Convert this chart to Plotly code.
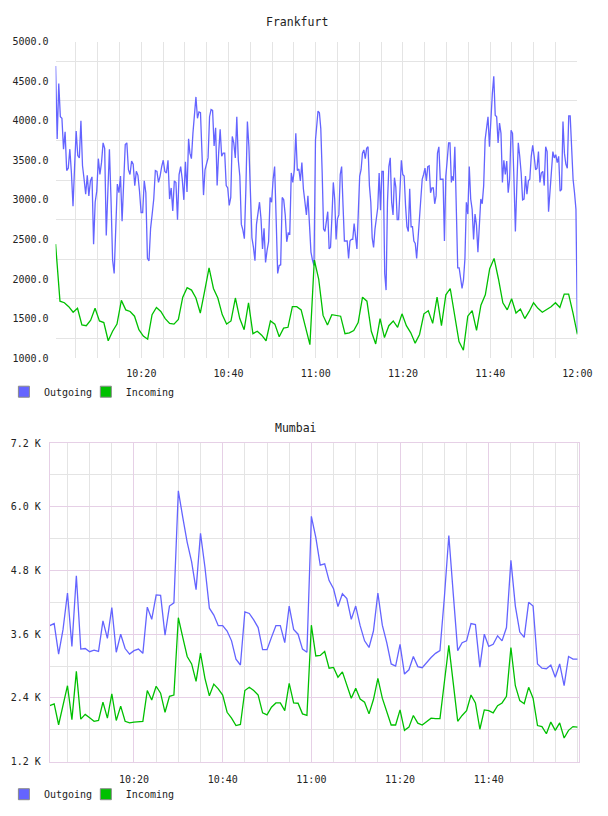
import pandas as pd
import plotly.graph_objects as go

# ---------------- DATA ----------------
FRA_TITLE = "Frankfurt"
MUM_TITLE = "Mumbai"
SERIES_NAMES = ["Outgoing", "Incoming"]

# Frankfurt outgoing, read in four consecutive chunks (segment start/end timestamps)
fra_out_seg_start = ["2024-01-01 10:00:20", "2024-01-01 10:31:08", "2024-01-01 11:00:31", "2024-01-01 11:31:14"]
fra_out_seg_end = ["2024-01-01 10:30:50", "2024-01-01 11:00:17", "2024-01-01 11:31:06", "2024-01-01 12:00:00"]
fra_out_1 = [4690, 3770, 4470, 4050, 4030, 3640, 3860, 3370, 3400, 3640, 3340, 2920, 3420, 3870, 3560, 3530,
             4000, 3430, 3260, 3070, 3310, 3050, 3240, 3290, 2440, 2970, 3110, 3520, 3320, 3470, 3720, 3650,
             2550, 3260, 3640, 3010, 2240, 2070, 2530, 3200, 3090, 3300, 2730, 3300, 3700, 3720, 3380, 3320,
             3490, 3450, 3180, 3360, 3310, 3110, 2840, 2840, 3240, 3090, 2260, 2230, 2640, 2820, 3010, 3370,
             3360, 3220, 3300, 3420, 3500, 3360, 3340, 3500, 3010, 3150, 2860, 3240, 3220, 2750, 3320, 3420,
             3260, 3000, 3480, 3100, 3770]
fra_out_2 = [3590, 3520, 3840, 4130, 4300, 4030, 4110, 4100, 3420, 3060, 3380, 3450, 3530, 4050, 4140, 4130,
             3680, 3910, 3180, 3590, 3890, 3550, 3590, 3590, 3180, 3150, 2930, 3030, 3800, 3720, 3530, 4050,
             3500, 3300, 2690, 2620, 2510, 3140, 3990, 3670, 3010, 2520, 2400, 2230, 2690, 2870, 2970, 2760,
             2380, 2640, 2210, 2360, 2470, 3030, 2970, 3260, 3420, 2760, 2070, 2170, 2180, 3030, 3000, 2810,
             2470, 2580, 2570, 3340, 3220, 3380, 3840, 3370, 3390, 3240, 3470, 3140, 2970, 2810, 3050, 2590,
             2340, 2240, 2170, 3760, 4050]
fra_out_3 = [4120, 4100, 3900, 3340, 2630, 2600, 2760, 2850, 2380, 2400, 2780, 3220, 3010, 2500, 2760, 2810,
             3320, 3420, 2930, 2480, 2480, 2480, 2260, 2480, 2500, 2500, 2700, 2500, 2380, 2840, 3300, 3380,
             3590, 3630, 3520, 3650, 3670, 3180, 2970, 2520, 2400, 2630, 2780, 2900, 3340, 2870, 3360, 3360,
             2070, 1860, 2970, 3420, 3530, 2970, 2810, 3280, 3160, 2750, 2750, 3110, 3500, 3320, 3300, 2930,
             2660, 2600, 3140, 2660, 2660, 2480, 2450, 2260, 2520, 2820, 2970, 3260, 3320, 3400, 3240, 3420,
             3430, 3090, 3150, 3150, 2950, 3050, 3590, 3670, 3260, 3260, 3260, 2480, 3300, 3500, 3720, 3720,
             3220]
fra_out_4 = [3300, 3240, 3670, 2760, 2140, 2140, 2010, 1880, 1990, 2260, 2970, 2820, 3420, 3010, 2880, 2500,
             2820, 2680, 2340, 2640, 3010, 2950, 3180, 3760, 3920, 4050, 3670, 4050, 4340, 4560, 4070, 4050,
             3720, 3970, 3840, 3220, 3500, 3320, 3490, 3090, 3260, 3880, 3840, 3260, 2600, 3180, 3720, 3550,
             3340, 3000, 3010, 3300, 3070, 3240, 3260, 3550, 3690, 3550, 3380, 3400, 3610, 3220, 3340, 3360,
             3180, 3670, 3610, 2850, 3180, 3360, 3610, 3530, 3570, 3470, 3550, 3110, 3130, 3990, 3590, 3450,
             3400, 4060, 4060, 3590, 3260, 3090, 2880, 1320]

fra_in_start, fra_in_end = "2024-01-01 10:00:20", "2024-01-01 12:00:00"
fra_in = [2440, 1720, 1700, 1650, 1580, 1630, 1420, 1410, 1480, 1630, 1470, 1450, 1220, 1340, 1430, 1730,
          1610, 1590, 1530, 1360, 1280, 1240, 1550, 1640, 1590, 1500, 1440, 1430, 1490, 1770, 1890,
          1860, 1760, 1570, 1850, 2140, 1880, 1760, 1550, 1430, 1470, 1760, 1500, 1360, 1700, 1310,
          1340, 1290, 1220, 1470, 1430, 1270, 1380, 1390, 1650, 1650, 1610, 1390, 1170, 2240, 2000,
          1540, 1420, 1550, 1540, 1530, 1310, 1320, 1350, 1450, 1770, 1720, 1340, 1180, 1500, 1260,
          1410, 1470, 1390, 1560, 1410, 1320, 1190, 1300, 1560, 1600, 1440, 1770, 1410, 1800, 1880,
          1540, 1210, 1100, 1530, 1600, 1350, 1670, 1800, 2130, 2260, 2000, 1700, 1610, 1750, 1570,
          1620, 1500, 1590, 1700, 1630, 1580, 1610, 1650, 1700, 1640, 1810, 1810, 1570, 1300]

mum_start, mum_end = "2024-01-01 10:01:00", "2024-01-01 12:00:00"
mum_out = [3760, 3800, 3225, 3690, 4375, 3370, 4700, 3320, 3330, 3270, 3300, 3275, 3850, 3520, 4100, 3260,
           3600, 3330, 3225, 3290, 3320, 3240, 4110, 3880, 4340, 4330, 3580, 4130, 4190, 6300, 5800, 5330,
           4960, 4440, 5500, 4860, 4090, 3960, 3760, 3760, 3660, 3475, 3130, 3020, 4020, 3990, 3870, 3725,
           3310, 3310, 3540, 3760, 3760, 3440, 4130, 3690, 3600, 3320, 3260, 5820, 5425, 4900, 4925, 4610,
           4455, 4120, 4360, 4270, 3880, 4130, 3760, 3475, 3350, 3660, 4375, 3770, 3440, 3040, 3000, 3410,
           2850, 2930, 3180, 2990, 2970, 3070, 3160, 3240, 3290, 4300, 5460, 4360, 3290, 3440, 3475, 3800,
           3780, 2980, 3600, 3370, 3410, 3570, 3475, 3725, 4990, 4130, 3640, 3540, 4200, 4130, 3040, 2960,
           2950, 3020, 2790, 3040, 2630, 3180, 3130, 3130]
mum_in = [2256, 2290, 1895, 2290, 2630, 1990, 2900, 2000, 2090, 2025, 1960, 1975, 2320, 2020, 2475, 1975,
          2245, 1960, 1930, 1945, 1950, 1960, 2540, 2360, 2620, 2490, 2130, 2430, 2455, 3910, 3540, 3180,
          3040, 2710, 3245, 2770, 2440, 2660, 2570, 2455, 2130, 2020, 1880, 1900, 2540, 2600, 2540, 2455,
          2120, 2080, 2225, 2305, 2305, 2160, 2675, 2305, 2300, 2100, 2070, 3770, 3190, 3200, 3275, 2960,
          2975, 2790, 2890, 2640, 2395, 2580, 2380, 2320, 2100, 2370, 2770, 2395, 2160, 1890, 1890, 2175,
          1790, 1850, 2070, 1925, 1890, 1955, 2020, 2010, 2010, 2700, 3390, 2680, 1960, 2070, 2160, 2455,
          2305, 1810, 2175, 2160, 2120, 2255, 2305, 2430, 3350, 2630, 2350, 2290, 2600, 2395, 1880, 1860,
          1725, 1945, 1790, 1930, 1645, 1790, 1860, 1850]

fra_x_ticks = ["2024-01-01 10:20", "2024-01-01 10:40", "2024-01-01 11:00", "2024-01-01 11:20",
               "2024-01-01 11:40", "2024-01-01 12:00"]
mum_x_ticks = fra_x_ticks[:5]
time_tick_labels = ["10:20", "10:40", "11:00", "11:20", "11:40", "12:00"]
fra_y_ticks = [1000, 1500, 2000, 2500, 3000, 3500, 4000, 4500, 5000]
mum_y_ticks = [1200, 2400, 3600, 4800, 6000, 7200]
mum_y_labels = ["1.2 K", "2.4 K", "3.6 K", "4.8 K", "6.0 K", "7.2 K"]

# ---------------- STYLE ----------------
BLUE = "#6464ff"
GREEN = "#00c000"
FONT = "DejaVu Sans Mono"
GRID = "#e4e4e4"
PINK = "#e6d0e6"
W, H = 608, 816

fra_out_chunks = [fra_out_1, fra_out_2, fra_out_3, fra_out_4]
fra_out_x, fra_out_y = [], []
for s, e, vals in zip(fra_out_seg_start, fra_out_seg_end, fra_out_chunks):
    fra_out_x += list(pd.date_range(s, e, periods=len(vals)))
    fra_out_y += vals
fra_in_x = pd.date_range(fra_in_start, fra_in_end, periods=len(fra_in))
mum_out_x = pd.date_range(mum_start, mum_end, periods=len(mum_out))
mum_in_x = pd.date_range(mum_start, mum_end, periods=len(mum_in))

fig = go.Figure()
lw = 1.3
fig.add_trace(go.Scatter(x=fra_out_x, y=fra_out_y, mode="lines", line=dict(color=BLUE, width=lw),
                         showlegend=False, xaxis="x", yaxis="y"))
fig.add_trace(go.Scatter(x=fra_in_x, y=fra_in, mode="lines", line=dict(color=GREEN, width=lw),
                         showlegend=False, xaxis="x", yaxis="y"))
fig.add_trace(go.Scatter(x=mum_out_x, y=mum_out, mode="lines", line=dict(color=BLUE, width=lw),
                         showlegend=False, xaxis="x2", yaxis="y2"))
fig.add_trace(go.Scatter(x=mum_in_x, y=mum_in, mode="lines", line=dict(color=GREEN, width=lw),
                         showlegend=False, xaxis="x2", yaxis="y2"))


def px_x(p):
    return p / W


def px_y(p):
    return 1 - p / H


legend_font = dict(family=FONT, size=10, color="#222")
legend_defs = {}
# one legend per swatch so each entry sits where the reference puts it
for (leg_a, leg_b), xa, ya, ypx in [(("legend", "legend3"), "x", "y", 392),
                                    (("legend2", "legend4"), "x2", "y2", 800)]:
    for leg, name, col, xpx in [(leg_a, SERIES_NAMES[0], BLUE, 4), (leg_b, SERIES_NAMES[1], GREEN, 88)]:
        fig.add_trace(go.Scatter(x=[None], y=[None], mode="markers", name=name, legend=leg,
                                 marker=dict(symbol="square", size=11, color=col,
                                             line=dict(color="#8a8a8a", width=1)),
                                 xaxis=xa, yaxis=ya))
        legend_defs[leg] = dict(orientation="h", x=px_x(xpx), y=px_y(ypx), xanchor="left",
                                yanchor="middle", font=legend_font, bgcolor="rgba(0,0,0,0)",
                                itemwidth=30, itemclick=False, itemdoubleclick=False)

tickfont = dict(family=FONT, size=10, color="#222")

fig.update_layout(
    width=W, height=H,
    margin=dict(l=0, r=0, t=0, b=0),
    paper_bgcolor="white", plot_bgcolor="white",
    font=dict(family=FONT, size=10, color="#222"),
    xaxis=dict(domain=[px_x(57), px_x(592)], anchor="y", type="date",
               range=[fra_in_start, fra_in_end],
               tickmode="array", tickvals=fra_x_ticks, ticktext=time_tick_labels,
               showgrid=True, gridcolor=GRID, gridwidth=1, zeroline=False, showline=False,
               ticks="", ticklabelstandoff=8, tickfont=tickfont,
               minor=dict(tickmode="linear", tick0="2024-01-01 10:00", dtick=5 * 60 * 1000,
                          showgrid=True, gridcolor=GRID, gridwidth=1, ticks="")),
    yaxis=dict(domain=[px_y(358), px_y(37)], anchor="x", range=[1000, 5000],
               tickmode="array", tickvals=fra_y_ticks, tickformat=".1f",
               showgrid=False, zeroline=False, showline=False, ticks="",
               ticklabelstandoff=6, tickfont=tickfont,
               minor=dict(tickmode="linear", tick0=1250, dtick=500, showgrid=True,
                          gridcolor=GRID, gridwidth=1, ticks="")),
    xaxis2=dict(domain=[px_x(51), px_x(594)], anchor="y2", type="date",
                range=[mum_start, "2024-01-01 12:00:26"],
                tickmode="array", tickvals=mum_x_ticks, ticktext=time_tick_labels[:5],
                showgrid=True, gridcolor=PINK, gridwidth=1, zeroline=False,
                showline=True, mirror=True, linecolor=PINK, linewidth=1,
                ticks="", ticklabelstandoff=8, tickfont=tickfont,
                minor=dict(tickmode="linear", tick0="2024-01-01 10:00", dtick=5 * 60 * 1000,
                           showgrid=True, gridcolor=GRID, gridwidth=1, ticks="")),
    yaxis2=dict(domain=[px_y(767), px_y(444)], anchor="x2", range=[1200, 7200],
                tickmode="array", tickvals=mum_y_ticks, ticktext=mum_y_labels,
                showgrid=True, gridcolor=PINK, gridwidth=1, zeroline=False,
                showline=True, mirror=True, linecolor=PINK, linewidth=1,
                ticks="", ticklabelstandoff=6, tickfont=tickfont,
                minor=dict(tickmode="linear", tick0=1800, dtick=1200, showgrid=True,
                           gridcolor=GRID, gridwidth=1, ticks="")),
    annotations=[
        dict(text=FRA_TITLE, x=px_x(304), y=px_y(17), xref="paper", yref="paper",
             showarrow=False, xanchor="center", yanchor="middle",
             font=dict(family=FONT, size=11.5, color="#222")),
        dict(text=MUM_TITLE, x=px_x(303), y=px_y(429), xref="paper", yref="paper",
             showarrow=False, xanchor="center", yanchor="middle",
             font=dict(family=FONT, size=11.5, color="#222")),
    ],
)
fig.update_layout(**legend_defs)

fig.write_html("out.html")
